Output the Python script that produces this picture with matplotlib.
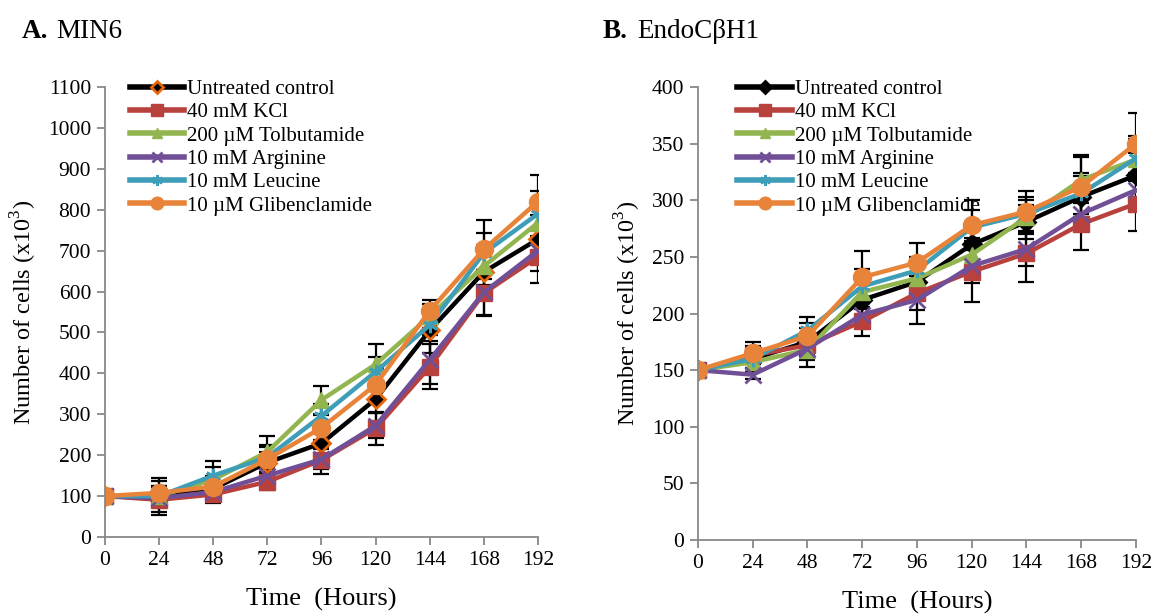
import matplotlib
matplotlib.use('Agg')
import matplotlib.pyplot as plt
import numpy as np

plt.rcParams['font.family'] = ['Liberation Serif', 'DejaVu Serif']
plt.rcParams['mathtext.fontset'] = 'custom'
plt.rcParams['mathtext.rm'] = 'Liberation Serif'

hours = [0, 24, 48, 72, 96, 120, 144, 168, 192]
names = ['Untreated control', '40 mM KCl', '200 \u00b5M Tolbutamide',
         '10 mM Arginine', '10 mM Leucine', '10 \u00b5M Glibenclamide']

# A. MIN6 (x10^3 cells)
min6_control = [100, 100, 118, 182, 229, 337, 505, 648, 728]
min6_kcl = [100, 91, 104, 135, 188, 266, 416, 596, 685]
min6_tolb = [100, 100, 140, 208, 335, 422, 540, 662, 768]
min6_arg = [100, 95, 110, 150, 190, 272, 433, 598, 700]
min6_leu = [100, 100, 150, 195, 296, 404, 518, 694, 790]
min6_glib = [100, 108, 123, 190, 267, 372, 553, 703, 820]
min6_err_control = [0, 45, 30, 25, 30, 35, 55, 65, 60]
min6_err_kcl = [0, 30, 20, 20, 33, 40, 55, 56, 65]
min6_err_tolb = [0, 25, 30, 38, 35, 50, 30, 45, 50]
min6_err_arg = [0, 20, 20, 20, 25, 30, 60, 55, 50]
min6_err_leu = [0, 25, 35, 30, 30, 35, 40, 50, 55]
min6_err_glib = [0, 30, 25, 30, 30, 40, 27, 72, 65]

# B. EndoCbH1 (x10^3 cells)
endo_control = [150, 160, 175, 212, 228, 261, 281, 303, 322]
endo_kcl = [150, 163, 172, 193, 218, 237, 253, 279, 297]
endo_tolb = [150, 157, 168, 219, 231, 252, 285, 318, 336]
endo_arg = [150, 146, 169, 199, 212, 242, 257, 288, 309]
endo_leu = [150, 160, 185, 224, 238, 276, 288, 306, 337]
endo_glib = [150, 165, 180, 232, 245, 278, 290, 312, 350]
endo_err_control = [0, 10, 12, 15, 15, 20, 15, 18, 20]
endo_err_kcl = [0, 8, 10, 13, 15, 27, 25, 23, 24]
endo_err_tolb = [0, 8, 15, 15, 12, 15, 15, 20, 18]
endo_err_arg = [0, 4, 10, 12, 21, 15, 15, 15, 15]
endo_err_leu = [0, 8, 12, 15, 12, 15, 15, 18, 20]
endo_err_glib = [0, 10, 12, 23, 17, 22, 18, 28, 27]

colors = ['black', '#B9413D', '#92B54F', '#704F97', '#3E9DB7', '#E8843A']
markers = ['D', 's', '^', 'x', (6, 2, 0), 'o']
msizes = [9, 12, 11, 11, 11, 13]

fig = plt.figure(figsize=(11.56, 6.14), dpi=100)
axA = fig.add_axes([0.0908, 0.1254, 0.3746, 0.733])
axB = fig.add_axes([0.6038, 0.1205, 0.3789, 0.7378])


def draw(ax, series, errs, ctrl_edge, ymax, ystep, legx):
    for i in range(len(series)):
        y = series[i]
        mec = colors[i]
        if i == 0:
            mec = ctrl_edge
        ax.plot(hours, y, color=colors[i], lw=3.2, marker=markers[i],
                ms=msizes[i], mfc=colors[i], mec=mec,
                mew=2 if i in (0, 3, 4) else 1, label=names[i], zorder=2 + i * 0.1)
        # no error bar at time 0
        ax.errorbar(hours[1:], y[1:], yerr=errs[i][1:], fmt='none', ecolor='black',
                    elinewidth=1.6, capsize=6, capthick=1.6, zorder=1.9)
    ax.set_xlim(0, 192)
    ax.set_ylim(0, ymax)
    ax.set_xticks(hours)
    ax.set_yticks(np.arange(0, ymax + 1, ystep))
    for s in ['top', 'right']:
        ax.spines[s].set_visible(False)
    for s in ['left', 'bottom']:
        ax.spines[s].set_color('#888888')
        ax.spines[s].set_linewidth(1.3)
    ax.tick_params(direction='out', length=6, width=1.3, color='#888888',
                   labelsize=15.5, pad=4)
    ax.set_ylabel('Number of cells (x10$^3$)', fontsize=17.5, labelpad=6)
    ax.set_xlabel('Time  (Hours)', fontsize=19, labelpad=13)
    for t in ax.get_xticklabels() + ax.get_yticklabels():
        t.set_clip_on(False)
    leg = ax.legend(loc='upper left', bbox_to_anchor=(legx, 1.035), frameon=False,
                    fontsize=15, handlelength=2.6, handletextpad=0.15,
                    labelspacing=0.18, borderaxespad=0, markerscale=0.7)
    for line in leg.get_lines():
        line.set_linewidth(4)


draw(axA, [min6_control, min6_kcl, min6_tolb, min6_arg, min6_leu, min6_glib],
     [min6_err_control, min6_err_kcl, min6_err_tolb, min6_err_arg, min6_err_leu, min6_err_glib],
     '#E8660A', 1100, 100, 0.038)
draw(axB, [endo_control, endo_kcl, endo_tolb, endo_arg, endo_leu, endo_glib],
     [endo_err_control, endo_err_kcl, endo_err_tolb, endo_err_arg, endo_err_leu, endo_err_glib],
     'black', 400, 50, 0.071)

# panel titles: bold letter + plain name
fig.text(0.019, 0.948, 'A.', fontsize=19.5, fontweight='bold', ha='left', va='center')
fig.text(0.049, 0.948, 'MIN6', fontsize=19.5, ha='left', va='center')
fig.text(0.521, 0.948, 'B.', fontsize=19.5, fontweight='bold', ha='left', va='center')
fig.text(0.551, 0.948, 'EndoC\u03b2H1', fontsize=19.5, ha='left', va='center')

fig.savefig('out.png', dpi=100)
